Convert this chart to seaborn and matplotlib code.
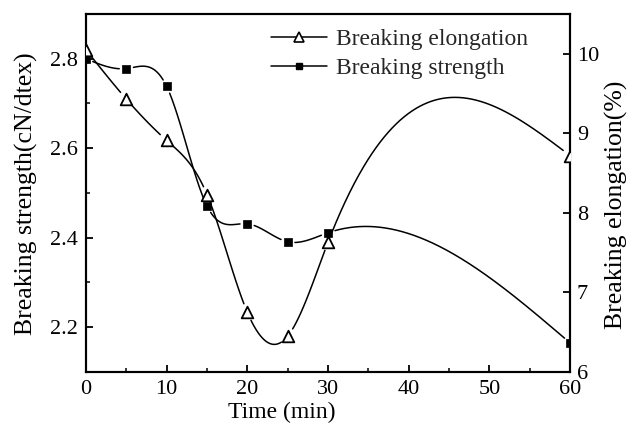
import numpy as np
import pandas as pd
import matplotlib
matplotlib.use("Agg")
import matplotlib.pyplot as plt
from matplotlib.lines import Line2D
import seaborn as sns

# ---- data ----
time_min = [0, 5, 10, 15, 20, 25, 30, 60]
breaking_strength = [2.80, 2.778, 2.738, 2.471, 2.431, 2.391, 2.411, 2.165]
breaking_elongation = [10.05, 9.43, 8.91, 8.23, 6.75, 6.45, 7.63, 8.72]
x_ticks = [0, 10, 20, 30, 40, 50, 60]
left_ticks = [2.2, 2.4, 2.6, 2.8]
right_ticks = [6, 7, 8, 9, 10]

sns.set_theme(style="ticks")
plt.rcParams["font.family"] = ["Liberation Serif", "DejaVu Serif"]


def natural_spline(x, y, xs):
    x = np.asarray(x, float)
    y = np.asarray(y, float)
    n = len(x)
    h = np.diff(x)
    A = np.zeros((n, n))
    b = np.zeros(n)
    A[0, 0] = 1
    A[-1, -1] = 1
    for i in range(1, n - 1):
        A[i, i - 1] = h[i - 1]
        A[i, i] = 2 * (h[i - 1] + h[i])
        A[i, i + 1] = h[i]
        b[i] = 6 * ((y[i + 1] - y[i]) / h[i] - (y[i] - y[i - 1]) / h[i - 1])
    M = np.linalg.solve(A, b)
    idx = np.clip(np.searchsorted(x, xs) - 1, 0, n - 2)
    x0, x1 = x[idx], x[idx + 1]
    hh = x1 - x0
    t0 = x1 - xs
    t1 = xs - x0
    return (M[idx] * t0 ** 3 / (6 * hh) + M[idx + 1] * t1 ** 3 / (6 * hh)
            + (y[idx] / hh - M[idx] * hh / 6) * t0
            + (y[idx + 1] / hh - M[idx + 1] * hh / 6) * t1)


fig = plt.figure(figsize=(6.3, 4.33), dpi=100)
ax = fig.add_axes([0.1365, 0.141, 0.7683, 0.8267])
ax2 = ax.twinx()

ax.set_xlim(0, 60)
ax.set_ylim(2.1, 2.9)
ax2.set_ylim(6, 10.5)


def gapped_curve(axis, xd, yd, gap_px):
    xs = np.linspace(min(xd), max(xd), 1500)
    ys = natural_spline(xd, yd, xs)
    fig.canvas.draw()
    pts = axis.transData.transform(np.column_stack([xs, ys]))
    mk = axis.transData.transform(np.column_stack([xd, yd]))
    d = np.min(np.hypot(pts[:, None, 0] - mk[None, :, 0],
                        pts[:, None, 1] - mk[None, :, 1]), axis=1)
    keep = d > gap_px
    seg = np.cumsum(np.r_[0, np.diff(keep.astype(int)) != 0])
    df = pd.DataFrame({"x": xs, "y": ys, "seg": seg})[keep]
    return df


df_s = gapped_curve(ax, time_min, breaking_strength, 7.0)
df_e = gapped_curve(ax2, time_min, breaking_elongation, 8.5)

sns.lineplot(data=df_s, x="x", y="y", units="seg", estimator=None, sort=False,
             color="black", lw=1.1, ax=ax, legend=False)
sns.scatterplot(x=time_min, y=breaking_strength, marker="s", s=36, color="black",
                edgecolor="black", linewidth=0.5, ax=ax, legend=False, zorder=4)

sns.lineplot(data=df_e, x="x", y="y", units="seg", estimator=None, sort=False,
             color="black", lw=1.1, ax=ax2, legend=False)
sns.scatterplot(x=time_min, y=breaking_elongation, marker="^", s=70, color="white",
                edgecolor="black", linewidth=1.3, ax=ax2, legend=False, zorder=4)

ax.set_xlim(0, 60)
ax.set_ylim(2.1, 2.9)
ax2.set_ylim(6, 10.5)

ax.set_xticks(x_ticks)
ax.set_xticks([5, 15, 25, 35, 45, 55], minor=True)
ax.set_yticks(left_ticks)
ax.set_yticks([2.3, 2.5, 2.7], minor=True)
ax2.set_yticks(right_ticks)

for a in (ax, ax2):
    for s in a.spines.values():
        s.set_linewidth(1.5)
        s.set_color("black")
ax.tick_params(axis="both", which="major", direction="in", length=5, width=1.3,
               labelsize=16, colors="black", pad=6)
ax.tick_params(axis="both", which="minor", direction="in", length=3, width=1.3)
ax2.tick_params(axis="y", which="major", direction="in", length=5, width=1.3,
                labelsize=16, colors="black", pad=5)
ax.set_xticklabels([str(v) for v in x_ticks])
ax.set_yticklabels([f"{v:.1f}" for v in left_ticks])
ax2.set_yticklabels([str(v) for v in right_ticks])

ax.set_xlabel("Time (min)", fontsize=17, color="black")
ax.xaxis.set_label_coords(0.405, -0.083)
ax.set_ylabel("Breaking strength(cN/dtex)", fontsize=18.5, color="black")
ax.yaxis.set_label_coords(-0.1, 0.497)
ax2.set_ylabel("Breaking elongation(%)", fontsize=18.5, color="black")
ax2.yaxis.set_label_coords(1.072, 0.466)

handles = [
    Line2D([], [], color="black", lw=1.1, marker="^", markersize=7,
           markerfacecolor="white", markeredgecolor="black", markeredgewidth=1.2),
    Line2D([], [], color="black", lw=1.1, marker="s", markersize=5,
           markerfacecolor="black", markeredgecolor="black"),
]
ax2.legend(handles, ["Breaking elongation", "Breaking strength"], loc="upper left",
           bbox_to_anchor=(0.362, 0.985), frameon=False, fontsize=17,
           handlelength=2.4, handletextpad=0.38, labelspacing=0.3, borderaxespad=0)

fig.savefig("out.png", dpi=100)
